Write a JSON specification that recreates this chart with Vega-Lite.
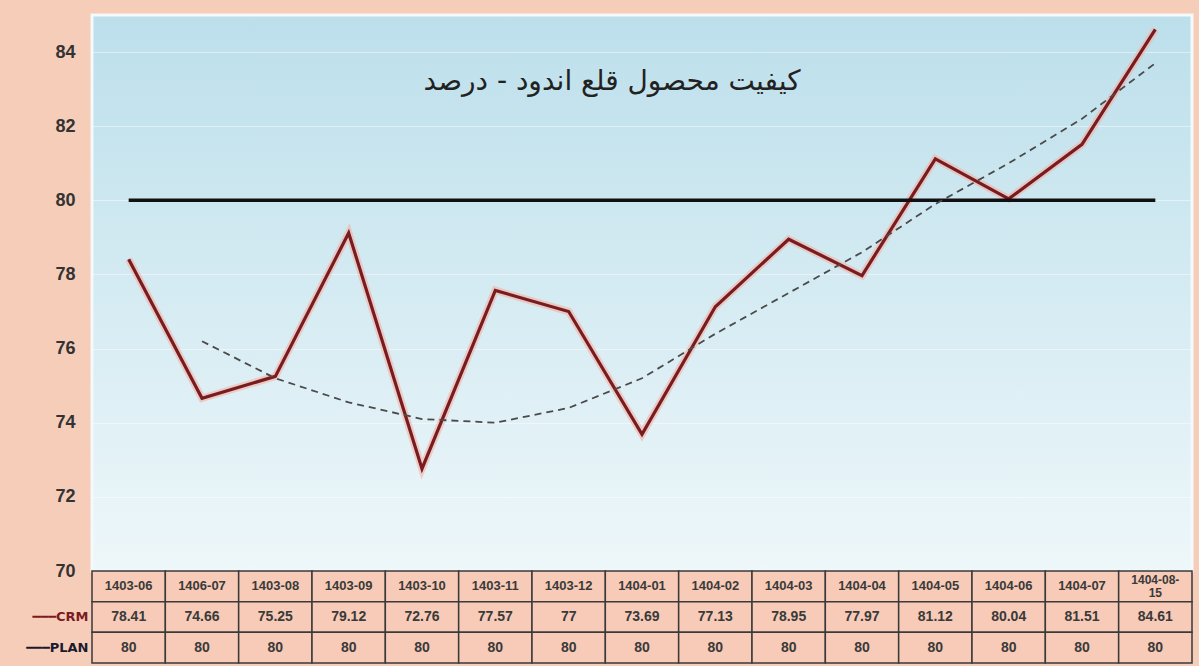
{
  "$schema": "https://vega.github.io/schema/vega-lite/v6.json",
  "background": "#f6cdb9",
  "padding": {"top": 12, "left": 25, "right": 5, "bottom": 4},
  "spacing": 0,
  "bounds": "flush",
  "datasets": {
    "series": [
      {"month": "1403-06", "series": "CRM", "value": 78.41},
      {"month": "1406-07", "series": "CRM", "value": 74.66},
      {"month": "1403-08", "series": "CRM", "value": 75.25},
      {"month": "1403-09", "series": "CRM", "value": 79.12},
      {"month": "1403-10", "series": "CRM", "value": 72.76},
      {"month": "1403-11", "series": "CRM", "value": 77.57},
      {"month": "1403-12", "series": "CRM", "value": 77},
      {"month": "1404-01", "series": "CRM", "value": 73.69},
      {"month": "1404-02", "series": "CRM", "value": 77.13},
      {"month": "1404-03", "series": "CRM", "value": 78.95},
      {"month": "1404-04", "series": "CRM", "value": 77.97},
      {"month": "1404-05", "series": "CRM", "value": 81.12},
      {"month": "1404-06", "series": "CRM", "value": 80.04},
      {"month": "1404-07", "series": "CRM", "value": 81.51},
      {"month": "1404-08-15", "series": "CRM", "value": 84.61},
      {"month": "1403-06", "series": "PLAN", "value": 80},
      {"month": "1406-07", "series": "PLAN", "value": 80},
      {"month": "1403-08", "series": "PLAN", "value": 80},
      {"month": "1403-09", "series": "PLAN", "value": 80},
      {"month": "1403-10", "series": "PLAN", "value": 80},
      {"month": "1403-11", "series": "PLAN", "value": 80},
      {"month": "1403-12", "series": "PLAN", "value": 80},
      {"month": "1404-01", "series": "PLAN", "value": 80},
      {"month": "1404-02", "series": "PLAN", "value": 80},
      {"month": "1404-03", "series": "PLAN", "value": 80},
      {"month": "1404-04", "series": "PLAN", "value": 80},
      {"month": "1404-05", "series": "PLAN", "value": 80},
      {"month": "1404-06", "series": "PLAN", "value": 80},
      {"month": "1404-07", "series": "PLAN", "value": 80},
      {"month": "1404-08-15", "series": "PLAN", "value": 80},
      {"month": "1406-07", "series": "Trend", "value": 76.2},
      {"month": "1403-08", "series": "Trend", "value": 75.2},
      {"month": "1403-09", "series": "Trend", "value": 74.55},
      {"month": "1403-10", "series": "Trend", "value": 74.1},
      {"month": "1403-11", "series": "Trend", "value": 74.0},
      {"month": "1403-12", "series": "Trend", "value": 74.4},
      {"month": "1404-01", "series": "Trend", "value": 75.2},
      {"month": "1404-02", "series": "Trend", "value": 76.4},
      {"month": "1404-03", "series": "Trend", "value": 77.5},
      {"month": "1404-04", "series": "Trend", "value": 78.6},
      {"month": "1404-05", "series": "Trend", "value": 79.9},
      {"month": "1404-06", "series": "Trend", "value": 81.0},
      {"month": "1404-07", "series": "Trend", "value": 82.2},
      {"month": "1404-08-15", "series": "Trend", "value": 83.7}
    ],
    "months": [
      {"month": "1403-06", "label": "1403-06"},
      {"month": "1406-07", "label": "1406-07"},
      {"month": "1403-08", "label": "1403-08"},
      {"month": "1403-09", "label": "1403-09"},
      {"month": "1403-10", "label": "1403-10"},
      {"month": "1403-11", "label": "1403-11"},
      {"month": "1403-12", "label": "1403-12"},
      {"month": "1404-01", "label": "1404-01"},
      {"month": "1404-02", "label": "1404-02"},
      {"month": "1404-03", "label": "1404-03"},
      {"month": "1404-04", "label": "1404-04"},
      {"month": "1404-05", "label": "1404-05"},
      {"month": "1404-06", "label": "1404-06"},
      {"month": "1404-07", "label": "1404-07"},
      {"month": "1404-08-15", "label": "1404-08-\n15"}
    ]
  },
  "resolve": {"scale": {"x": "independent", "y": "independent"}},
  "vconcat": [
    {
      "width": 1100,
      "height": 556,
      "data": {"name": "series"},
      "title": {
        "text": "کیفیت محصول قلع اندود - درصد",
        "font": "DejaVu Sans",
        "fontSize": 28,
        "fontWeight": "normal",
        "color": "#222",
        "anchor": "middle",
        "baseline": "alphabetic",
        "offset": -104,
        "dx": -30
      },
      "view": {
        "fill": {
          "gradient": "linear",
          "x1": 0, "y1": 0, "x2": 0, "y2": 1,
          "stops": [
            {"offset": 0, "color": "#bcdfeb"},
            {"offset": 1, "color": "#eef7fa"}
          ]
        },
        "stroke": "#f4f9fb",
        "strokeWidth": 3
      },
      "encoding": {
        "x": {
          "field": "month",
          "type": "ordinal",
          "sort": null,
          "scale": {"type": "point", "padding": 0.5},
          "axis": null
        },
        "y": {
          "field": "value",
          "type": "quantitative",
          "scale": {"domain": [70, 85], "nice": false, "zero": false},
          "axis": {
            "values": [70, 72, 74, 76, 78, 80, 82, 84],
            "title": null,
            "domain": false,
            "ticks": false,
            "labelFont": "Liberation Sans",
            "labelFontSize": 18,
            "labelFontWeight": "bold",
            "labelColor": "#333",
            "labelPadding": 17,
            "gridColor": "#ffffff",
            "gridOpacity": 0.45,
            "gridWidth": 1
          }
        }
      },
      "layer": [
        {
          "transform": [{"filter": "datum.series === 'CRM'"}],
          "mark": {"type": "line", "stroke": "#f3b2a6", "strokeWidth": 7.5, "opacity": 0.6}
        },
        {
          "transform": [{"filter": "datum.series === 'CRM'"}],
          "mark": {"type": "line", "stroke": "#7a1c1f", "strokeWidth": 3.2}
        },
        {
          "transform": [{"filter": "datum.series === 'PLAN'"}],
          "mark": {"type": "line", "stroke": "#111", "strokeWidth": 3.5}
        },
        {
          "transform": [{"filter": "datum.series === 'Trend'"}],
          "mark": {"type": "line", "stroke": "#4a4a4a", "strokeWidth": 1.8, "strokeDash": [7, 5]}
        }
      ]
    },
    {
      "width": 1100,
      "height": 92,
      "view": {"stroke": null},
      "encoding": {
        "x": {
          "field": "month",
          "type": "ordinal",
          "sort": null,
          "scale": {"type": "band", "paddingInner": 0, "paddingOuter": 0},
          "axis": null
        },
        "y": {
          "field": "series",
          "type": "nominal",
          "scale": {"domain": ["Month", "CRM", "PLAN"], "paddingInner": 0, "paddingOuter": 0},
          "axis": {
            "title": null,
            "domain": false,
            "ticks": false,
            "labelExpr": "datum.value === 'Month' ? '' : '━━━' + datum.value",
            "labelFont": "DejaVu Sans",
            "labelFontSize": 13,
            "labelFontWeight": "bold",
            "labelColor": {"condition": {"test": "datum.value === 'CRM'", "value": "#7a1c1f"}, "value": "#1a1a2e"},
            "labelPadding": 4
          }
        }
      },
      "layer": [
        {
          "data": {"name": "months"},
          "mark": {"type": "rect", "fill": "#f7cbb7", "stroke": "#3a3a3a", "strokeWidth": 1.5},
          "encoding": {"y": {"datum": "Month", "type": "nominal"}}
        },
        {
          "data": {"name": "series"},
          "transform": [{"filter": "datum.series !== 'Trend'"}],
          "mark": {"type": "rect", "fill": "#f7cbb7", "stroke": "#3a3a3a", "strokeWidth": 1.5}
        },
        {
          "data": {"name": "months"},
          "transform": [{"filter": "datum.month !== '1404-08-15'"}],
          "mark": {"type": "text", "font": "Liberation Sans", "fontSize": 13, "fontWeight": "bold", "color": "#3a3a3a"},
          "encoding": {
            "y": {"datum": "Month", "type": "nominal"},
            "text": {"field": "label"}
          }
        },
        {
          "data": {"name": "months"},
          "transform": [{"filter": "datum.month === '1404-08-15'"}],
          "mark": {"type": "text", "font": "Liberation Sans", "fontSize": 12, "fontWeight": "bold", "color": "#3a3a3a", "lineBreak": "\n", "lineHeight": 13, "dy": -6},
          "encoding": {
            "y": {"datum": "Month", "type": "nominal"},
            "text": {"field": "label"}
          }
        },
        {
          "data": {"name": "series"},
          "transform": [{"filter": "datum.series !== 'Trend'"}],
          "mark": {"type": "text", "font": "Liberation Sans", "fontSize": 14, "fontWeight": "bold", "color": "#3a3a3a"},
          "encoding": {"text": {"field": "value", "type": "quantitative", "format": ".4~f"}}
        }
      ]
    }
  ]
}
